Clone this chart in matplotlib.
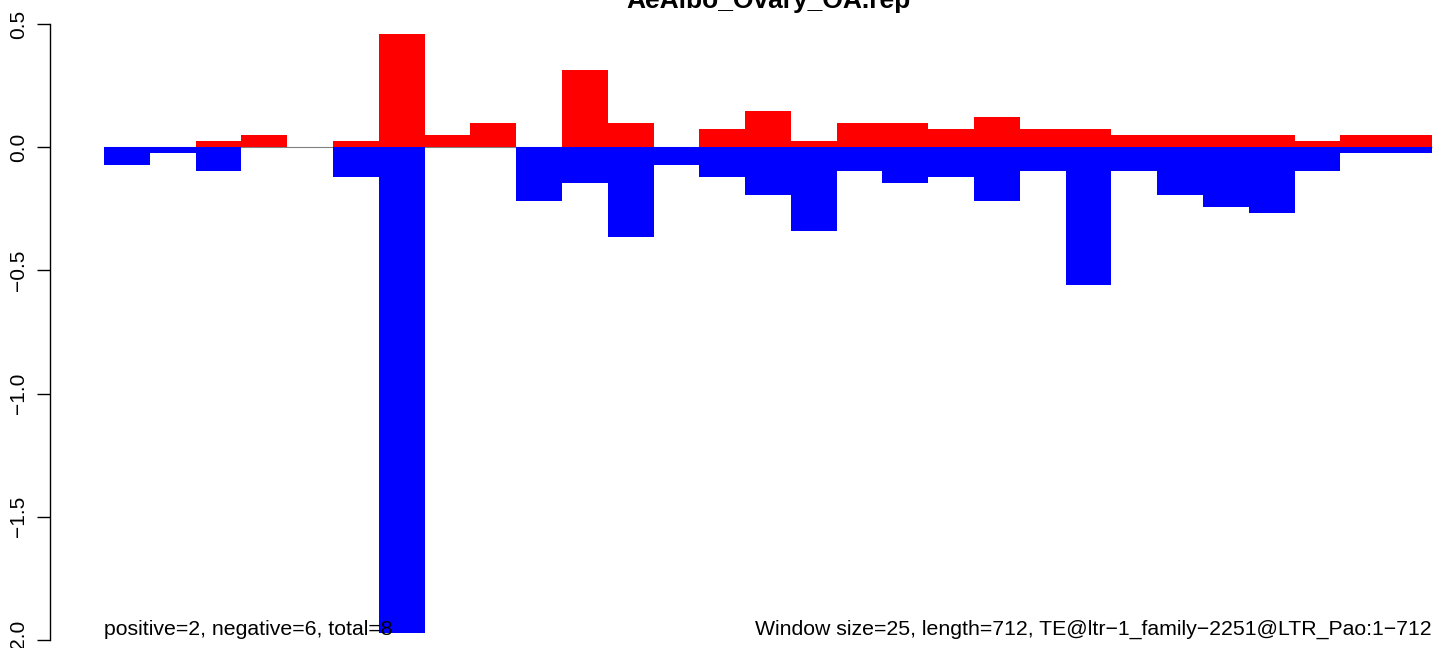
import numpy as np
import matplotlib.pyplot as plt

plt.rcParams['font.family'] = ['Liberation Sans', 'DejaVu Sans']

title = 'AeAlbo_Ovary_OA.rep'
window = 25
length = 712
te_name = 'TE@ltr\u22121_family\u22122251@LTR_Pao:1\u2212712'

# per-window values (red = sense, blue = antisense)
positive = [0, 0, 0.024, 0.049, 0, 0.024, 0.461, 0.049, 0.098, 0,
            0.312, 0.098, 0, 0.073, 0.146, 0.024, 0.098, 0.098, 0.073, 0.122,
            0.073, 0.073, 0.049, 0.049, 0.049, 0.049, 0.024, 0.049, 0.049]
negative = [-0.073, -0.024, -0.098, 0, 0, -0.122, -1.970, 0, 0, -0.220,
            -0.146, -0.366, -0.073, -0.122, -0.195, -0.341, -0.098, -0.146, -0.122, -0.220,
            -0.098, -0.561, -0.098, -0.195, -0.244, -0.268, -0.098, -0.024, -0.024]
n_pos, n_neg = 2, 6

W, H = 1441, 648
fig = plt.figure(figsize=(W / 100, H / 100), dpi=100)
ax = fig.add_axes([0, 0, 1, 1])

# pixel mapping: bars span x=104..1432, y 0.5 -> 24px, -2.0 -> 640px
px_unit = (1432 - 104) / len(positive)
ax.set_xlim(-104 / px_unit, (W - 104) / px_unit)
py_unit = (640 - 24) / 2.5
ax.set_ylim(-2.0 - (H - 640) / py_unit, 0.5 + 24 / py_unit)

x = np.arange(len(positive))
ax.hlines(0, 0, len(positive), color='#808080', lw=0.8, zorder=1)
ax.bar(x, positive, width=1.0, align='edge', color='#ff0000', zorder=2, lw=0)
ax.bar(x, negative, width=1.0, align='edge', color='#0000ff', zorder=2, lw=0)

for s in ['top', 'right', 'bottom']:
    ax.spines[s].set_visible(False)
ax.spines['left'].set_position(('data', (50 - 104) / px_unit))
ax.spines['left'].set_bounds(-2.0, 0.5)
ax.spines['left'].set_linewidth(1.0)
ax.set_xticks([])
ticks = [-2.0, -1.5, -1.0, -0.5, 0.0, 0.5]
ax.set_yticks(ticks)
ax.set_yticklabels(['%.1f' % t if t >= 0 else '\u2212%.1f' % -t for t in ticks],
                   rotation=90, va='center', fontsize=15)
ax.tick_params(axis='y', length=9.5, width=1.0, pad=6)

ax.text(768 / W, 1 - 8 / H, title, transform=fig.transFigure, ha='center',
        va='baseline', fontsize=19, fontweight='bold')
ax.text(0, -1.98, 'positive=%d, negative=%d, total=%d' % (n_pos, n_neg, n_pos + n_neg),
        ha='left', va='baseline', fontsize=15.3, zorder=3)
ax.text(len(positive), -1.98,
        'Window size=%d, length=%d, %s' % (window, length, te_name),
        ha='right', va='baseline', fontsize=15.3, zorder=3)

fig.savefig('out.png', dpi=100)
